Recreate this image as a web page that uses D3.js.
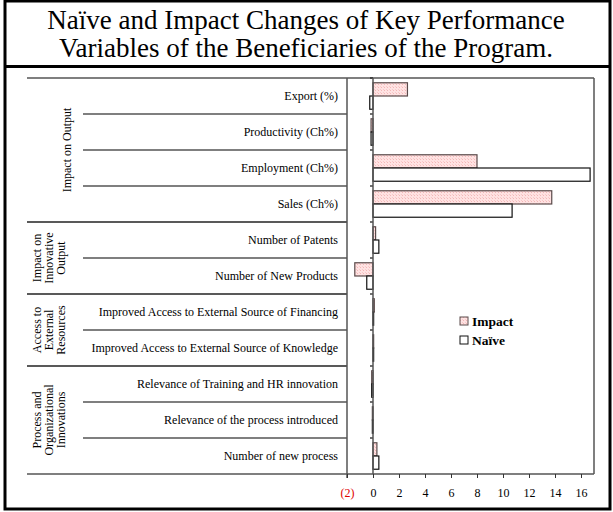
<!DOCTYPE html>
<html lang="en">
<head>
<meta charset="UTF-8">
<script src="https://d3js.org/d3.v7.min.js"></script>
<style>
  body { margin: 0; background: #fff; font-family: 'Liberation Serif', 'Times New Roman', serif; }
  svg text { font-family: 'Liberation Serif', 'Times New Roman', serif; }
</style>
</head>
<body>
<script>
  // categories top to bottom
  const categories = [
    "Export (%)",
    "Productivity (Ch%)",
    "Employment (Ch%)",
    "Sales (Ch%)",
    "Number of Patents",
    "Number of New Products",
    "Improved Access to External Source of Financing",
    "Improved Access to External Source of Knowledge",
    "Relevance of Training and HR innovation",
    "Relevance of the process introduced",
    "Number of new process"
  ];
  const impact = [2.65, -0.15, 8.0, 13.75, 0.2, -1.4, 0.1, 0.05, -0.1, -0.05, 0.3];
  const naive = [-0.25, -0.15, 16.7, 10.7, 0.45, -0.48, 0.05, 0.05, -0.1, -0.05, 0.45];

  // groups: label lines + first/last category index
  const groups = [
    { lines: ["Impact on Output"], from: 0, to: 3 },
    { lines: ["Impact on", "Innovative", "Output"], from: 4, to: 5 },
    { lines: ["Access to", "External", "Resources"], from: 6, to: 7 },
    { lines: ["Process and", "Organizational", "Innovations"], from: 8, to: 10 }
  ];
  const xTicks = [-2, 0, 2, 4, 6, 8, 10, 12, 14, 16];

  const W = 613, H = 512;
  const svg = d3.select("body").append("svg").attr("width", W).attr("height", H);

  const defs = svg.append("defs");
  const pat = defs.append("pattern").attr("id", "pinkHatch")
    .attr("width", 3).attr("height", 3).attr("patternUnits", "userSpaceOnUse");
  pat.append("rect").attr("width", 3).attr("height", 3).attr("fill", "#ffe2e2");
  pat.append("rect").attr("x", 0).attr("y", 0).attr("width", 1).attr("height", 1).attr("fill", "#f3b8b8");
  pat.append("rect").attr("x", 2).attr("y", 2).attr("width", 1).attr("height", 1).attr("fill", "#f7caca");

  // outer frame and title box
  svg.append("rect").attr("x", 5).attr("y", 1).attr("width", 605).attr("height", 508)
    .attr("fill", "none").attr("stroke", "#000").attr("stroke-width", 3);
  svg.append("line").attr("x1", 5).attr("x2", 610).attr("y1", 66.5).attr("y2", 66.5)
    .attr("stroke", "#000").attr("stroke-width", 3);

  const title = svg.append("text").attr("text-anchor", "middle").attr("font-size", 27).attr("fill", "#000");
  title.append("tspan").attr("x", 306).attr("y", 29).text("Naïve and Impact Changes of Key Performance");
  title.append("tspan").attr("x", 306).attr("y", 57).text("Variables of the Beneficiaries of the Program.");

  const plotL = 347, plotR = 594, plotT = 78, plotB = 474;
  const x = d3.scaleLinear().domain([-2, 17]).range([plotL, plotR]);
  const y = d3.scaleBand().domain(categories).range([plotT, plotB]).paddingInner(0).paddingOuter(0);
  const inner = d3.scaleBand().domain(["impact", "naive"]).range([0, y.bandwidth()]).paddingInner(0).paddingOuter(0.36);

  const gridColor = "#555";

  // table lines: top, bottom, group dividers, item dividers
  svg.append("line").attr("x1", 27).attr("x2", plotR).attr("y1", plotT).attr("y2", plotT)
    .attr("stroke", gridColor).attr("stroke-width", 1.5);
  svg.append("line").attr("x1", 27).attr("x2", plotR).attr("y1", plotB).attr("y2", plotB)
    .attr("stroke", gridColor).attr("stroke-width", 1.5);

  categories.forEach((c, i) => {
    if (i === 0) return;
    const isGroupStart = groups.some(g => g.from === i);
    svg.append("line")
      .attr("x1", isGroupStart ? 27 : 83).attr("x2", plotL)
      .attr("y1", y(c)).attr("y2", y(c))
      .attr("stroke", isGroupStart ? "#222" : gridColor).attr("stroke-width", 1.3);
  });

  // vertical plot borders
  svg.append("line").attr("x1", plotL).attr("x2", plotL).attr("y1", plotT).attr("y2", plotB + 4)
    .attr("stroke", gridColor).attr("stroke-width", 1.5);
  svg.append("line").attr("x1", plotR).attr("x2", plotR).attr("y1", plotT).attr("y2", plotB)
    .attr("stroke", gridColor).attr("stroke-width", 1.5);

  // category labels
  svg.append("g").selectAll("text").data(categories).join("text")
    .attr("x", 338).attr("y", d => y(d) + y.bandwidth() / 2 + 4)
    .attr("text-anchor", "end").attr("font-size", 12).attr("fill", "#000")
    .text(d => d);

  // group labels (rotated)
  groups.forEach(g => {
    const cy = (y(categories[g.from]) + y(categories[g.to]) + y.bandwidth()) / 2;
    const n = g.lines.length;
    g.lines.forEach((ln, k) => {
      const cx = n === 1 ? 71 : 41 + k * 12;
      svg.append("text")
        .attr("transform", `translate(${cx},${cy}) rotate(-90)`)
        .attr("text-anchor", "middle").attr("font-size", 12).attr("fill", "#000")
        .text(ln);
    });
  });

  // bars
  const bars = svg.append("g");
  bars.selectAll("rect.impact").data(categories).join("rect")
    .attr("class", "impact")
    .attr("x", (d, i) => x(Math.min(0, impact[i])))
    .attr("y", d => y(d) + inner("impact"))
    .attr("width", (d, i) => Math.abs(x(impact[i]) - x(0)))
    .attr("height", inner.bandwidth())
    .attr("fill", "url(#pinkHatch)").attr("stroke", "#5a4a4a").attr("stroke-width", 1.2);
  bars.selectAll("rect.naive").data(categories).join("rect")
    .attr("class", "naive")
    .attr("x", (d, i) => x(Math.min(0, naive[i])))
    .attr("y", d => y(d) + inner("naive"))
    .attr("width", (d, i) => Math.abs(x(naive[i]) - x(0)))
    .attr("height", inner.bandwidth())
    .attr("fill", "#fff").attr("stroke", "#111").attr("stroke-width", 1.2);

  // zero axis with left ticks
  const yAxis = svg.append("g").attr("transform", `translate(${x(0)},0)`)
    .call(d3.axisLeft(y).tickSize(3).tickFormat("").tickValues(categories))
  yAxis.select(".domain").remove();
  yAxis.selectAll(".tick line").attr("transform", `translate(0,${-y.bandwidth() / 2})`)
    .attr("stroke", "#222").attr("stroke-width", 1.3);
  svg.append("line").attr("x1", x(0)).attr("x2", x(0)).attr("y1", plotT).attr("y2", plotB)
    .attr("stroke", "#555").attr("stroke-width", 1.5);

  // bottom axis
  const xAxis = svg.append("g").attr("transform", `translate(0,${plotB})`)
    .call(d3.axisBottom(x).tickValues(xTicks).tickSize(4).tickPadding(10)
      .tickFormat(d => d < 0 ? `(${Math.abs(d)})` : d));
  xAxis.select(".domain").remove();
  xAxis.selectAll(".tick line").attr("stroke", "#333");
  xAxis.selectAll(".tick text")
    .attr("font-size", 12).attr("font-family", "'Liberation Serif', serif")
    .attr("fill", d => d < 0 ? "#e00000" : "#000");

  // legend
  const legend = svg.append("g").attr("transform", "translate(460,317)");
  const legendItems = [
    { name: "Impact", fill: "url(#pinkHatch)", stroke: "#5a4a4a" },
    { name: "Naïve", fill: "#fff", stroke: "#111" }
  ];
  legendItems.forEach((it, k) => {
    legend.append("rect").attr("x", 0).attr("y", k * 19).attr("width", 8).attr("height", 8)
      .attr("fill", it.fill).attr("stroke", it.stroke).attr("stroke-width", 1);
    legend.append("text").attr("x", 12).attr("y", k * 19 + 9)
      .attr("font-size", 13.5).attr("font-weight", "bold").attr("fill", "#000")
      .text(it.name);
  });
</script>
</body>
</html>
